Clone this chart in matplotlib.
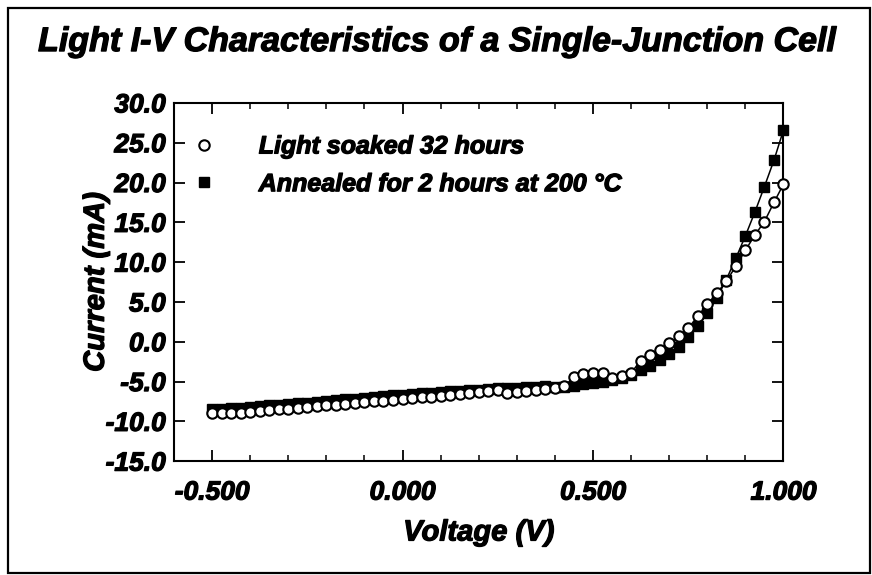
import numpy as np
import matplotlib
matplotlib.use("Agg")
import matplotlib.pyplot as plt
import matplotlib.patheffects as pe
from matplotlib.lines import Line2D
from matplotlib.patches import Rectangle

plt.rcParams['font.family'] = ['Liberation Sans', 'DejaVu Sans']
plt.rcParams['font.weight'] = 'bold'
plt.rcParams['font.style'] = 'italic'

# voltage sweep (V), same grid for both measurements
voltage = [-0.500, -0.475, -0.450, -0.425, -0.400, -0.375, -0.350, -0.325, -0.300, -0.275,
           -0.250, -0.225, -0.200, -0.175, -0.150, -0.125, -0.100, -0.075, -0.050, -0.025,
           0.000, 0.025, 0.050, 0.075, 0.100, 0.125, 0.150, 0.175, 0.200, 0.225,
           0.250, 0.275, 0.300, 0.325, 0.350, 0.375, 0.400, 0.425, 0.450, 0.475,
           0.500, 0.525, 0.550, 0.575, 0.600, 0.625, 0.650, 0.675, 0.700, 0.725,
           0.750, 0.775, 0.800, 0.825, 0.850, 0.875, 0.900, 0.925, 0.950, 0.975,
           1.000]

# light soaked 32 hours (mA)
soaked = [-8.9, -9.0, -9.0, -8.9, -8.8, -8.7, -8.6, -8.5, -8.4, -8.3,
          -8.2, -8.1, -8.0, -7.9, -7.8, -7.7, -7.6, -7.5, -7.4, -7.3,
          -7.2, -7.1, -7.0, -6.9, -6.8, -6.7, -6.6, -6.5, -6.3, -6.2,
          -6.1, -6.4, -6.3, -6.2, -6.0, -5.9, -5.8, -5.6, -4.4, -4.1,
          -3.9, -3.9, -4.5, -4.3, -3.9, -2.4, -1.7, -1.1, -0.2, 0.7,
          1.7, 3.2, 4.7, 6.1, 7.6, 9.5, 11.5, 13.4, 15.1, 17.5,
          19.8]

# annealed 2 hours at 200 C (mA)
annealed = [-8.4, -8.4, -8.35, -8.3, -8.2, -8.1, -8.0, -7.9, -7.85, -7.75,
            -7.65, -7.55, -7.45, -7.35, -7.25, -7.15, -7.05, -6.95, -6.85, -6.75,
            -6.65, -6.55, -6.5, -6.4, -6.3, -6.25, -6.15, -6.05, -6.0, -5.9,
            -5.85, -5.8, -5.75, -5.7, -5.65, -5.6, -5.65, -5.7, -5.5, -5.35,
            -5.2, -5.0, -4.8, -4.6, -4.2, -3.6, -3.0, -2.3, -1.5, -0.6,
            0.6, 2.0, 3.6, 5.5, 7.8, 10.5, 13.3, 16.3, 19.5, 22.8,
            26.6]

x_ticks = [-0.5, 0.0, 0.5, 1.0]
y_ticks = [-15, -10, -5, 0, 5, 10, 15, 20, 25, 30]

# make the scanned-looking heavy type a bit thicker
heavy = [pe.withStroke(linewidth=0.9, foreground='black')]

fig = plt.figure(figsize=(8.72, 5.75), dpi=100)
ax = fig.add_axes([0.1995, 0.198, 0.699, 0.623])

# outer frame around the whole picture
fig.patches.append(Rectangle((0.009, 0.004), 0.989, 0.982, transform=fig.transFigure,
                             fill=False, edgecolor='black', linewidth=1.6))

ax.plot(voltage, annealed, color='black', linewidth=1.1, marker='s', markersize=7.5,
        markerfacecolor='black', markeredgecolor='black', clip_on=False, zorder=3)
ax.plot(voltage, soaked, color='black', linewidth=1.1, marker='o', markersize=7.5,
        markerfacecolor='white', markeredgecolor='black', markeredgewidth=1.5,
        clip_on=False, zorder=4)

ax.set_xlim(-0.6, 1.0)
ax.set_ylim(-15, 30)
ax.set_xticks(x_ticks)
ax.set_xticklabels([f"{v:.3f}" for v in x_ticks])
ax.set_xticks(np.arange(-0.6, 1.01, 0.1), minor=True)
ax.set_yticks(y_ticks)
ax.set_yticklabels([f"{v:.1f}" for v in y_ticks])

ax.tick_params(axis='both', which='major', direction='in', length=8, width=1.3,
               top=True, right=True, labelsize=19)
ax.tick_params(axis='x', which='major', pad=14)
ax.tick_params(axis='y', which='major', pad=6)
ax.tick_params(axis='x', which='minor', direction='in', length=4, width=1.1, top=True)
for lab in ax.get_xticklabels() + ax.get_yticklabels():
    lab.set_fontweight('bold')
    lab.set_fontstyle('italic')
    lab.set_path_effects(heavy)
for sp in ax.spines.values():
    sp.set_linewidth(1.5)

ax.set_xlabel('Voltage (V)', fontsize=21, fontweight='bold', fontstyle='italic',
              labelpad=10, path_effects=heavy)
ax.set_ylabel('Current (mA)', fontsize=21, fontweight='bold', fontstyle='italic',
              labelpad=-3, path_effects=heavy)
fig.text(0.501, 0.926, 'Light I-V Characteristics of a Single-Junction Cell', ha='center',
         va='center', fontsize=24.5, fontweight='bold', fontstyle='italic', path_effects=heavy)

handles = [
    Line2D([], [], linestyle='none', marker='o', markersize=7.5, markerfacecolor='white',
           markeredgecolor='black', markeredgewidth=1.5),
    Line2D([], [], linestyle='none', marker='s', markersize=7.5, markerfacecolor='black',
           markeredgecolor='black'),
]
leg = ax.legend(handles, ['Light soaked 32 hours', 'Annealed for 2 hours at 200 \u00b0C'],
                loc='upper left', bbox_to_anchor=(0.012, 0.94), frameon=False,
                prop={'size': 18, 'weight': 'bold', 'style': 'italic'},
                handlelength=1.0, handletextpad=1.7, labelspacing=0.55, borderaxespad=0)
for t in leg.get_texts():
    t.set_path_effects(heavy)

fig.savefig('out.png', dpi=100)
